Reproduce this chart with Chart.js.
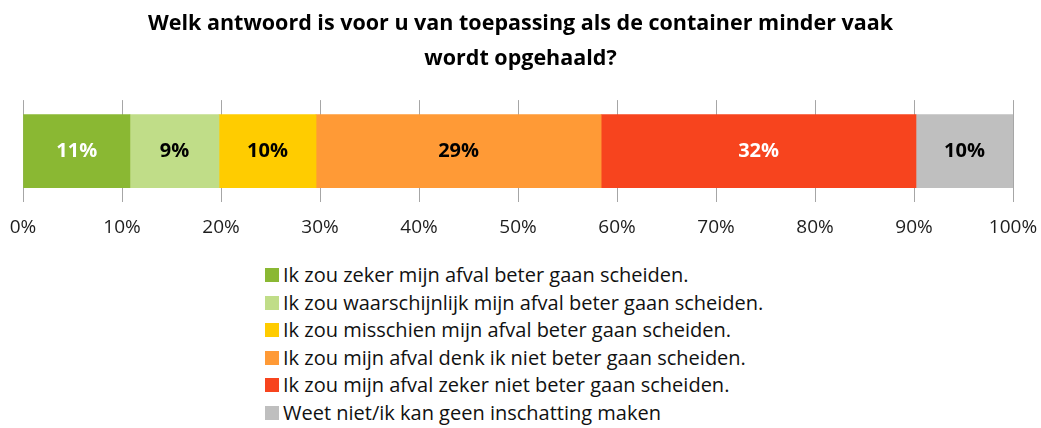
<!DOCTYPE html>
<html>
<head>
<meta charset="utf-8">
<script src="https://cdn.jsdelivr.net/npm/chart.js@4/dist/chart.umd.min.js"></script>
<style>
  html, body { margin: 0; padding: 0; background: #fff; }
  #wrap { position: relative; width: 1041px; height: 428px; }
  #chartBox { position: absolute; left: 0; top: 0; width: 1041px; height: 242px; }
  #legend { position: absolute; left: 265px; top: 261px; font-family: "Open Sans", sans-serif; font-size: 20px; color: #111; }
  #legend div { height: 27.6px; line-height: 27px; white-space: nowrap; }
  #legend span.box { display: inline-block; width: 14px; height: 14px; margin-right: 4px; vertical-align: 0px; }
</style>
</head>
<body>
<div id="wrap">
  <div id="chartBox"><canvas id="chart"></canvas></div>
  <div id="legend"></div>
</div>
<script>
const titleLines = ['Welk antwoord is voor u van toepassing als de container minder vaak', 'wordt opgehaald?'];
const answers = [
  'Ik zou zeker mijn afval beter gaan scheiden.',
  'Ik zou waarschijnlijk mijn afval beter gaan scheiden.',
  'Ik zou misschien mijn afval beter gaan scheiden.',
  'Ik zou mijn afval denk ik niet beter gaan scheiden.',
  'Ik zou mijn afval zeker niet beter gaan scheiden.',
  'Weet niet/ik kan geen inschatting maken'
];
const shares = [10.8, 9.0, 9.8, 28.8, 31.8, 9.8];
const colors = ['#8AB833', '#C0DD88', '#FFCC00', '#FF9A36', '#F7441E', '#BFBFBF'];
const labelColors = ['#ffffff', '#000000', '#000000', '#000000', '#ffffff', '#000000'];

// draw the percentage in the middle of each segment
const valueLabels = {
  id: 'valueLabels',
  afterDatasetsDraw(chart) {
    const ctx = chart.ctx;
    ctx.save();
    ctx.font = 'bold 20px "Open Sans", sans-serif';
    ctx.textAlign = 'center';
    ctx.textBaseline = 'middle';
    chart.data.datasets.forEach((ds, i) => {
      chart.getDatasetMeta(i).data.forEach((bar, j) => {
        ctx.fillStyle = labelColors[i];
        ctx.fillText(Math.round(ds.data[j]) + '%', (bar.x + bar.base) / 2, bar.y);
      });
    });
    ctx.restore();
  }
};

const ctx = document.getElementById('chart').getContext('2d');
new Chart(ctx, {
  type: 'bar',
  data: {
    labels: [''],
    datasets: answers.map((a, i) => ({
      label: a,
      data: [shares[i]],
      backgroundColor: colors[i],
      borderWidth: 0,
      barThickness: 73
    }))
  },
  options: {
    indexAxis: 'y',
    responsive: true,
    maintainAspectRatio: false,
    animation: false,
    layout: { padding: 0 },
    scales: {
      x: {
        stacked: true,
        min: 0,
        max: 100,
        border: { display: false },
        grid: { color: '#A6A6A6', drawTicks: false },
        ticks: {
          stepSize: 10,
          padding: 14,
          color: '#1e1e1e',
          font: { family: '"Open Sans", sans-serif', size: 19 },
          callback: v => v + '%'
        },
        afterFit: s => { s.height = 40; s.paddingLeft = 23; s.paddingRight = 28; }
      },
      y: { stacked: true, display: false }
    },
    plugins: {
      legend: { display: false },
      tooltip: { enabled: false },
      title: {
        display: true,
        text: titleLines,
        color: '#000',
        font: { family: '"Open Sans", sans-serif', size: 21.5, weight: 'bold', lineHeight: 1.63 },
        padding: { top: 6, bottom: 24 }
      }
    }
  },
  plugins: [valueLabels]
});

const legend = document.getElementById('legend');
answers.forEach((a, i) => {
  const row = document.createElement('div');
  const box = document.createElement('span');
  box.className = 'box';
  box.style.background = colors[i];
  row.appendChild(box);
  row.appendChild(document.createTextNode(a));
  legend.appendChild(row);
});
</script>
</body>
</html>
